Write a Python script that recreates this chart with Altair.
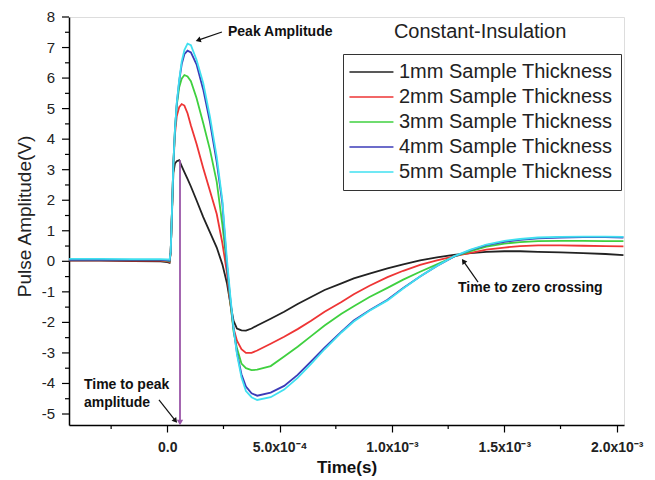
import altair as alt
import pandas as pd

# time in units of 1e-4 s
t_e4 = [-4.37, -3.0, -1.5, -0.3, 0.0, 0.1, 0.15, 0.2, 0.27, 0.34, 0.42, 0.53, 0.64, 0.76, 0.9, 1.05,
        1.3, 1.6, 1.9, 2.2, 2.45, 2.65, 2.8, 2.95, 3.1, 3.3, 3.5, 3.75, 4.0, 4.6, 5.2, 5.8, 6.4, 7.0,
        7.75, 8.3, 9.0, 9.8, 10.5, 11.25, 12.0, 12.75, 13.5, 14.2, 15.0, 15.7, 16.5, 17.5, 18.5, 19.5, 20.3]

mm1 = [0.02, 0.02, 0.01, 0.0, -0.03, -0.05, 0.3, 1.4, 2.9, 3.2, 3.28, 3.31, 3.12, 2.92, 2.7, 2.45,
       2.0, 1.45, 0.95, 0.45, -0.1, -0.7, -1.35, -1.95, -2.2, -2.26, -2.27, -2.2, -2.1, -1.88, -1.65, -1.4, -1.17, -0.94,
       -0.72, -0.56, -0.4, -0.23, -0.1, 0.03, 0.13, 0.21, 0.27, 0.31, 0.33, 0.33, 0.31, 0.29, 0.27, 0.24, 0.2]
mm2 = [0.03, 0.03, 0.02, 0.02, 0.0, -0.02, 0.3, 1.45, 3.15, 4.15, 4.75, 5.05, 5.15, 5.1, 4.85, 4.45,
       3.85, 3.05, 2.3, 1.55, 0.6, -0.35, -1.35, -2.2, -2.6, -2.88, -3.0, -3.0, -2.92, -2.7, -2.47, -2.22, -1.95, -1.65,
       -1.33, -1.08, -0.8, -0.52, -0.31, -0.12, 0.03, 0.16, 0.28, 0.38, 0.45, 0.5, 0.52, 0.52, 0.51, 0.5, 0.49]
mm3 = [0.05, 0.05, 0.04, 0.04, 0.02, 0.0, 0.3, 1.45, 3.2, 4.3, 5.1, 5.7, 5.98, 6.1, 6.05, 5.9,
       5.35, 4.52, 3.65, 2.6, 1.2, -0.1, -1.3, -2.3, -2.85, -3.35, -3.5, -3.56, -3.55, -3.43, -3.12, -2.8, -2.45, -2.1,
       -1.72, -1.47, -1.17, -0.87, -0.6, -0.34, -0.1, 0.15, 0.33, 0.48, 0.58, 0.63, 0.66, 0.67, 0.67, 0.66, 0.66]
mm4 = [0.05, 0.05, 0.05, 0.05, 0.03, 0.02, 0.3, 1.45, 3.2, 4.3, 5.15, 5.9, 6.45, 6.78, 6.9, 6.84,
       6.45, 5.62, 4.55, 3.25, 1.9, -0.1, -1.2, -2.2, -3.0, -3.7, -4.1, -4.32, -4.4, -4.3, -4.08, -3.72, -3.28, -2.83,
       -2.3, -1.94, -1.6, -1.26, -0.87, -0.5, -0.15, 0.15, 0.37, 0.53, 0.64, 0.7, 0.75, 0.78, 0.79, 0.79, 0.78]
mm5 = [0.08, 0.08, 0.07, 0.07, 0.06, 0.05, 0.3, 1.46, 3.2, 4.3, 5.18, 5.94, 6.54, 6.92, 7.13, 7.08,
       6.6, 5.83, 4.73, 3.42, 2.0, 0.1, -1.1, -2.2, -3.05, -3.8, -4.25, -4.45, -4.54, -4.45, -4.2, -3.82, -3.36, -2.88,
       -2.33, -1.97, -1.62, -1.28, -0.89, -0.5, -0.15, 0.16, 0.38, 0.55, 0.67, 0.73, 0.78, 0.8, 0.81, 0.81, 0.8]

series_names = ["1mm Sample Thickness", "2mm Sample Thickness", "3mm Sample Thickness",
                "4mm Sample Thickness", "5mm Sample Thickness"]
series_colors = ["#222222", "#ee3535", "#3fd03f", "#3b3bb8", "#40e0f0"]

# annotations (time in 1e-4 s, value in V)
arrow_t1 = [2.43, 13.83, -0.37]
arrow_v1 = [7.51, -0.68, -4.54]
arrow_t2 = [1.41, 13.2, 0.34]
arrow_v2 = [7.25, -0.02, -5.2]
arrow_angle = [251, 325, 141]

ann_text = ["Peak Amplitude", "Time to zero crossing", "Time to peak", "amplitude"]
ann_t = [2.70, 12.94, -3.71, -3.71]
ann_v = [7.51, -0.87, -4.05, -4.64]

title_text = ["Constant-Insulation"]
title_t = [13.92]
title_v = [7.51]

peak_line_t = [0.565]
peak_line_v1 = [3.31]
peak_line_v2 = [-5.25]

x_major_labels = {0: "0.0", 50: "5.0x10\u207b\u2074", 100: "1.0x10\u207b\u00b3",
                  150: "1.5x10\u207b\u00b3", 200: "2.0x10\u207b\u00b3"}
x_major_vals = [v * 1e-5 for v in [0, 50, 100, 150, 200]]
x_minor_vals = [v * 1e-5 for v in [-25, 25, 75, 125, 175]]
y_major_vals = list(range(-5, 9))
y_major_labels = [str(v) for v in y_major_vals]
y_minor_vals = [v + 0.5 for v in range(-5, 8)]

rows = []
for name, vals in zip(series_names, [mm1, mm2, mm3, mm4, mm5]):
    for t, v in zip(t_e4, vals):
        rows.append({"t": t * 1e-4, "v": v, "s": name})
df = pd.DataFrame(rows)

arrows = pd.DataFrame({"t1": [a * 1e-4 for a in arrow_t1], "v1": arrow_v1,
                       "t2": [a * 1e-4 for a in arrow_t2], "v2": arrow_v2, "ang": arrow_angle})
anns = pd.DataFrame({"t": [a * 1e-4 for a in ann_t], "v": ann_v, "txt": ann_text})
ttl = pd.DataFrame({"t": [a * 1e-4 for a in title_t], "v": title_v, "txt": title_text})
pk = pd.DataFrame({"t": [a * 1e-4 for a in peak_line_t], "v1": peak_line_v1, "v2": peak_line_v2,
                   "ang": [180]})
xminor = pd.DataFrame({"t": x_minor_vals})
yminor = pd.DataFrame({"v": y_minor_vals})
ymajor = pd.DataFrame({"v": y_major_vals, "lab": y_major_labels})

FONT = "Liberation Sans"
xscale = alt.Scale(domain=[-4.375e-4, 2.0325e-3], nice=False, zero=False)
yscale = alt.Scale(domain=[-5.36, 8.0], nice=False, zero=False)

label_expr = " : ".join(
    [f"round(datum.value*1e5) == {k} ? '{v}'" for k, v in x_major_labels.items()]) + " : ''"

xaxis = alt.Axis(values=x_major_vals, labelExpr=label_expr, grid=False, tickSize=7,
                 tickColor="black", tickWidth=1.2, domainColor="black", domainWidth=1.5,
                 labelFont=FONT, labelFontSize=14, labelFontWeight="bold", labelColor="#222",
                 labelPadding=8, labelFlush=False, labelOverlap=False,
                 title="Time(s)", titleFont=FONT, titleFontSize=17, titleFontWeight="bold",
                 titleColor="#111", titleY=42, titleBaseline="middle")
yaxis = alt.Axis(labels=False, ticks=False, grid=False, domainColor="black", domainWidth=1.5,
                 title="Pulse Amplitude(V)", titleFont=FONT, titleFontSize=19, titleFontWeight="normal",
                 titleColor="#222", titleX=-45, titleY=199, titleAngle=270, titleAlign="center",
                 titleBaseline="middle")

lines = alt.Chart(df).mark_line(strokeWidth=1.8).encode(
    x=alt.X("t:Q", scale=xscale, axis=xaxis),
    y=alt.Y("v:Q", scale=yscale, axis=yaxis),
    color=alt.Color("s:N", scale=alt.Scale(domain=series_names, range=series_colors),
                    legend=alt.Legend(title=None, orient="none", legendX=274, legendY=37,
                                      strokeColor="#333", fillColor="white", padding=8,
                                      symbolType="M-2.1,0H5.9", symbolSize=121, symbolStrokeWidth=1.6,
                                      labelOffset=28, labelFont=FONT, labelFontSize=20,
                                      labelColor="#222", rowPadding=5, labelLimit=400)),
)

xminor_ticks = alt.Chart(xminor).mark_rule(color="black", strokeWidth=1.2).encode(
    x="t:Q", y=alt.value(408), y2=alt.value(412))
yminor_ticks = alt.Chart(yminor).mark_rule(color="black", strokeWidth=1.2).encode(
    y="v:Q", x=alt.value(-4), x2=alt.value(0))
ymajor_ticks = alt.Chart(ymajor).mark_rule(color="black", strokeWidth=1.2).encode(
    y="v:Q", x=alt.value(-7), x2=alt.value(0))
ymajor_labels = alt.Chart(ymajor).mark_text(align="right", baseline="middle", font=FONT, fontSize=15,
                                            color="#222").encode(
    y="v:Q", x=alt.value(-14), text="lab:N")

peak_rule = alt.Chart(pk).mark_rule(color="#9a55a8", strokeWidth=1.8).encode(
    x="t:Q", y="v1:Q", y2="v2:Q")
peak_head = alt.Chart(pk).mark_point(shape="triangle", filled=True, size=40, color="#9a55a8",
                                     opacity=1).encode(x="t:Q", y="v2:Q", angle=alt.Angle("ang:Q", scale=None))

arrow_rules = alt.Chart(arrows).mark_rule(color="#111", strokeWidth=1.2).encode(
    x="t1:Q", y="v1:Q", x2="t2:Q", y2="v2:Q")
arrow_heads = alt.Chart(arrows).mark_point(shape="triangle", filled=True, size=35, color="#111",
                                           opacity=1).encode(
    x="t2:Q", y="v2:Q", angle=alt.Angle("ang:Q", scale=None))

ann_marks = alt.Chart(anns).mark_text(align="left", baseline="middle", font=FONT, fontSize=14,
                                      fontWeight="bold", color="#111").encode(
    x="t:Q", y="v:Q", text="txt:N")
title_mark = alt.Chart(ttl).mark_text(align="center", baseline="middle", font=FONT, fontSize=20,
                                      color="#222").encode(x="t:Q", y="v:Q", text="txt:N")

chart = alt.layer(lines, xminor_ticks, yminor_ticks, ymajor_ticks, ymajor_labels, peak_rule, peak_head,
                  arrow_rules, arrow_heads, ann_marks, title_mark).properties(
    width=555, height=408,
    autosize=alt.AutoSizeParams(type="none"),
    padding={"left": 61, "top": 9, "right": 20, "bottom": 55},
).configure_view(stroke="black", strokeWidth=1.5).configure(background="white")

chart.save("out.html", embed_options={"renderer": "svg", "actions": False})
